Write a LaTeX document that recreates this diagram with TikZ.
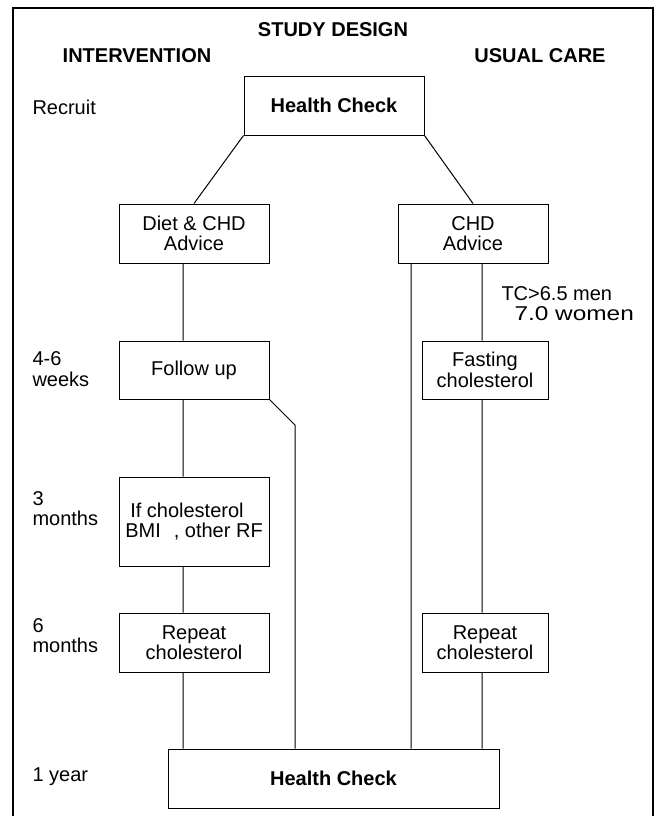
\documentclass[tikz,border=0pt]{standalone}
\usepackage{graphicx}
\usepackage{fontspec}
\setmainfont{Liberation Sans}

\tikzset{
    box/.style = {draw, line width = 1pt, inner sep = 0pt, align = center, minimum width = 150pt, minimum height = 59pt},
    stage/.style = {inner sep = 0pt, align = left, anchor = west},
}

\begin{document}
\begin{tikzpicture}[x = 1pt, y = -1pt, line width = 1pt, font = \fontsize{20}{20.5}\selectfont]
                \useasboundingbox (0, 0) rectangle (655, 816);
                \draw [line width = 2pt] (13, 830) -- (13, 8) -- (653, 8) -- (653, 830);
                \coordinate (colA) at (183, 0);
                \coordinate (colB) at (295, 0);
                \coordinate (colC) at (411, 0);
                \coordinate (colD) at (482, 0);
                \coordinate (bend) at (295, 425);
                \path
                    node (title) at (333, 30) {\bfseries STUDY DESIGN}
                    node (armI) at (137, 56) {\bfseries INTERVENTION}
                    node (armU) at (540, 56) {\bfseries USUAL CARE}
                    node [stage] (tRecruit) at (32, 107) {Recruit}
                    node [stage] (tWeeks) at (32, 369) {4-6\\weeks}
                    node [stage] (tThree) at (32, 508.5) {3\\months}
                    node [stage] (tSix) at (32, 635.5) {6\\months}
                    node [stage] (tYear) at (32, 777) {1 year}
                    node [stage, anchor = north west] (tc) at (501, 286) {TC>6.5 men\\\hspace*{13pt}\scalebox{1.22}[1]{7.0 women}};
                \path
                    node [box, minimum width = 180pt] (hcTop) at (334, 105.5) {\bfseries Health Check}
                    node [box] (diet) at (194, 233.5) {Diet \& CHD\\Advice}
                    node [box] (chd) at (473, 233.5) {CHD\\Advice}
                    node [box, minimum height = 58pt] (follow) at (194, 370) {Follow up}
                    node [box, minimum width = 126pt, minimum height = 58pt] (fast) at (485, 370) {Fasting\\cholesterol}
                    node [box, minimum height = 89pt, align = left] (ifChol) at (194, 521.5) {\hspace*{5pt}If cholesterol\\BMI\hspace{13pt}, other RF}
                    node [box] (repA) at (194, 642.5) {Repeat\\cholesterol}
                    node [box, minimum width = 126pt] (repU) at (485, 642.5) {Repeat\\cholesterol}
                    node [box, minimum width = 331pt] (hcEnd) at (333.5, 778.5) {\bfseries Health Check};
                \draw
                    (hcTop.south west) -- (diet.north)
                    (hcTop.south east) -- (chd.north)
                    (diet.south -| colA) -- (follow.north -| colA)
                    (follow.south -| colA) -- (ifChol.north -| colA)
                    (ifChol.south -| colA) -- (repA.north -| colA)
                    (repA.south -| colA) -- (hcEnd.north -| colA)
                    (follow.south east) -- (bend) -- (hcEnd.north -| colB)
                    (chd.south -| colC) -- (hcEnd.north -| colC)
                    (chd.south -| colD) -- (fast.north -| colD)
                    (fast.south -| colD) -- (repU.north -| colD)
                    (repU.south -| colD) -- (hcEnd.north -| colD);
            \end{tikzpicture}
\end{document}
